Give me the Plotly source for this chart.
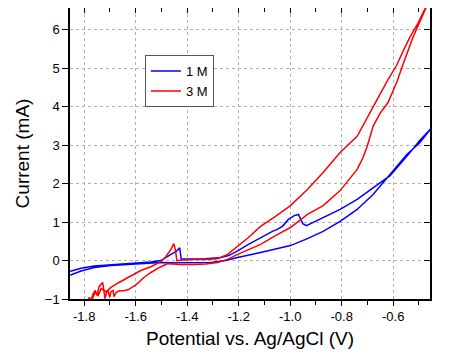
import plotly.graph_objects as go

# 1 M scan (potential V, current mA), forward then return
v_1m = [-1.889, -1.850, -1.812, -1.761, -1.696, -1.630, -1.560, -1.502, -1.463, -1.386,
        -1.309, -1.251, -1.204, -1.115, -1.057, -0.999, -0.933, -0.872, -0.806, -0.740,
        -0.678, -0.612, -0.547, -0.496, -0.450,
        -0.450, -0.496, -0.547, -0.612, -0.678, -0.740, -0.806, -0.872, -0.914, -0.937,
        -0.951, -0.961, -0.968, -0.984, -1.007, -1.030, -1.050, -1.069, -1.115, -1.162,
        -1.204, -1.239, -1.270, -1.328, -1.386, -1.423, -1.429, -1.444, -1.463, -1.483,
        -1.502, -1.541, -1.630, -1.696, -1.761, -1.812, -1.850, -1.889]
i_1m = [-0.40, -0.37, -0.27, -0.18, -0.13, -0.10, -0.08, -0.05, -0.06, -0.06,
        -0.05, 0.00, 0.08, 0.21, 0.29, 0.39, 0.57, 0.76, 1.02, 1.33,
        1.72, 2.24, 2.76, 3.07, 3.44,
        3.46, 3.13, 2.71, 2.21, 1.90, 1.59, 1.33, 1.12, 0.99, 0.91,
        0.96, 1.12, 1.20, 1.17, 1.07, 0.89, 0.81, 0.76, 0.60, 0.42,
        0.25, 0.13, 0.08, 0.05, 0.04, 0.04, 0.33, 0.23, 0.16, 0.08,
        0.00, -0.04, -0.08, -0.10, -0.14, -0.20, -0.27, -0.31]

# 3 M scan
v_3m = [-1.788, -1.781, -1.773, -1.765, -1.757, -1.750, -1.742, -1.734, -1.728, -1.723,
        -1.719, -1.713, -1.707, -1.701, -1.696, -1.688, -1.684, -1.676, -1.668, -1.661,
        -1.653, -1.630, -1.599, -1.568, -1.541, -1.502, -1.475, -1.425, -1.374, -1.328,
        -1.282, -1.243, -1.204, -1.162, -1.115, -1.057, -0.999, -0.933, -0.872, -0.806,
        -0.740, -0.717, -0.701, -0.678, -0.651, -0.620, -0.585, -0.562, -0.523, -0.496,
        -0.465,
        -0.477, -0.504, -0.535, -0.562, -0.585, -0.624, -0.663, -0.690, -0.740, -0.806,
        -0.872, -0.933, -0.999, -1.057, -1.115, -1.162, -1.204, -1.243, -1.282, -1.328,
        -1.374, -1.413, -1.440, -1.446, -1.452, -1.463, -1.483, -1.502, -1.541, -1.580,
        -1.630, -1.665, -1.696, -1.715, -1.734, -1.746, -1.757, -1.769, -1.781]
i_3m = [-1.15, -0.96, -1.02, -0.86, -0.78, -0.91, -0.68, -0.63, -0.57, -0.81,
        -0.99, -0.83, -0.78, -0.96, -0.81, -0.78, -0.94, -0.83, -0.81, -0.78,
        -0.79, -0.76, -0.63, -0.44, -0.31, -0.16, -0.08, -0.10, -0.10, -0.09,
        -0.05, 0.03, 0.16, 0.29, 0.42, 0.65, 0.86, 1.20, 1.43, 1.82,
        2.37, 2.68, 2.97, 3.49, 3.83, 4.11, 4.66, 5.10, 5.81, 6.22,
        6.69,
        6.54, 6.17, 5.81, 5.44, 5.10, 4.66, 4.19, 3.85, 3.23, 2.81,
        2.29, 1.85, 1.43, 1.15, 0.89, 0.60, 0.36, 0.16, 0.05, 0.03,
        0.03, 0.01, 0.00, 0.29, 0.44, 0.29, 0.10, -0.03, -0.16, -0.26,
        -0.44, -0.57, -0.70, -0.81, -0.73, -0.91, -0.83, -1.02, -1.17]

x_ticks = [-1.8, -1.6, -1.4, -1.2, -1.0, -0.8, -0.6]
x_labels = ["-1.8", "-1.6", "-1.4", "-1.2", "-1.0", "-0.8", "-0.6"]
x_minor = [-1.7, -1.5, -1.3, -1.1, -0.9, -0.7, -0.5]
y_ticks = [-1, 0, 1, 2, 3, 4, 5, 6]

x_range = [-1.855, -0.457]
y_range = [-1.0, 6.57]

fig = go.Figure()

fig.add_trace(go.Scatter(x=v_1m, y=i_1m, name="1 M", mode="lines",
                         line=dict(color="#0000ff", width=1.5)))
fig.add_trace(go.Scatter(x=v_3m, y=i_3m, name="3 M", mode="lines",
                         line=dict(color="#ff0000", width=1.5)))
# holder for the top/right tick axes
fig.add_trace(go.Scatter(x=[], y=[], xaxis="x2", yaxis="y2", showlegend=False,
                         hoverinfo="skip"))

grid = dict(showgrid=True, gridcolor="#b0b0b0", gridwidth=1, griddash="3px,3px")

# page body has an 8px margin, so the figure is a bit smaller than the window
fig.update_layout(
    width=441, height=347,
    margin=dict(l=62, r=19, t=0, b=56),
    paper_bgcolor="white", plot_bgcolor="white",
    font=dict(family="Liberation Sans, Arial, sans-serif", color="black", size=13),
    showlegend=True,
    legend=dict(x=0.208, y=0.838, xanchor="left", yanchor="top",
                bordercolor="#555555", borderwidth=1, bgcolor="white",
                font=dict(size=13), tracegroupgap=0, itemwidth=30),
    xaxis=dict(range=x_range, tickvals=x_ticks, ticktext=x_labels,
               ticks="outside", ticklen=5, tickwidth=1, tickcolor="black",
               minor=dict(tickvals=x_minor, ticks="outside", ticklen=4,
                          tickcolor="black", showgrid=False),
               showline=True, linecolor="black", linewidth=1.5, zeroline=False,
               title=dict(text="Potential vs. Ag/AgCl (V)", font=dict(size=19), standoff=8),
               **grid),
    yaxis=dict(range=y_range, tickvals=y_ticks,
               ticks="outside", ticklen=6, tickwidth=1, tickcolor="black",
               showline=True, linecolor="black", linewidth=1.5, zeroline=False,
               title=dict(text="Current (mA)", font=dict(size=19), standoff=10),
               **grid),
    xaxis2=dict(range=x_range, overlaying="x", side="top", anchor="y",
                tickvals=x_ticks, ticks="inside", ticklen=5, tickcolor="black",
                minor=dict(tickvals=x_minor, ticks="inside", ticklen=4, tickcolor="black"),
                showticklabels=False, showgrid=False, zeroline=False,
                showline=True, linecolor="black", linewidth=1.5),
    yaxis2=dict(range=y_range, overlaying="y", side="right", anchor="x",
                tickvals=y_ticks, ticks="inside", ticklen=6, tickcolor="black",
                showticklabels=False, showgrid=False, zeroline=False,
                showline=True, linecolor="black", linewidth=1.5),
)

fig.write_html("out.html")
